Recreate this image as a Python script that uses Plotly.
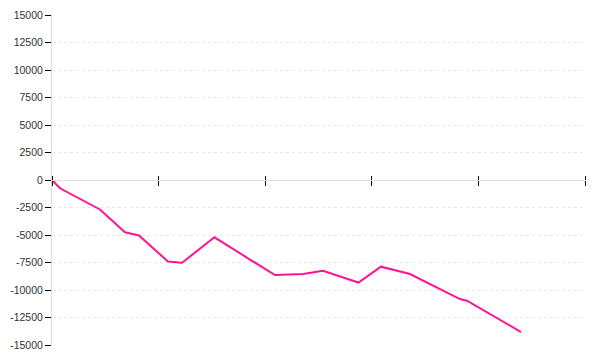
import plotly.graph_objects as go

# Data (x in axis units 0..5, y values)
x_vals = [0, 0.075, 0.45, 0.685, 0.816, 1.088, 1.22, 1.524, 1.857, 2.092, 2.355,
          2.542, 2.875, 3.086, 3.358, 3.762, 3.827, 3.893, 4.4]
y_vals = [0, -755, -2680, -4755, -5045, -7410, -7520, -5210, -7230, -8640, -8545,
          -8245, -9320, -7880, -8545, -10455, -10820, -10970, -13820]
y_ticks = [-15000, -12500, -10000, -7500, -5000, -2500, 0, 2500, 5000, 7500, 10000, 12500, 15000]
x_ticks = [0, 1, 2, 3, 4, 5]

fig = go.Figure()
fig.add_trace(go.Scatter(x=x_vals, y=y_vals, mode="lines",
                         line=dict(color="#ff1493", width=2), hoverinfo="skip"))
# invisible companion trace so the upper tick axis is drawn
fig.add_trace(go.Scatter(x=x_vals, y=y_vals, mode="lines", xaxis="x2",
                         line=dict(color="rgba(0,0,0,0)", width=0), hoverinfo="skip"))

fig.update_layout(
    template="none",
    width=600, height=360,
    margin=dict(l=52, r=15, t=15, b=15),
    paper_bgcolor="white", plot_bgcolor="white",
    showlegend=False,
    font=dict(family="Liberation Sans", size=10.5, color="#333333"),
    xaxis=dict(range=[0, 5], tickvals=x_ticks, showticklabels=False, showgrid=False,
               zeroline=False, anchor="free", position=0.5, showline=True,
               linecolor="#dddddd", linewidth=1, ticks="outside", ticklen=5,
               tickcolor="black", tickwidth=1, automargin=False),
    xaxis2=dict(range=[0, 5], tickvals=x_ticks, showticklabels=False, showgrid=False,
                zeroline=False, overlaying="x", side="top", anchor="free", position=0.5,
                showline=False, ticks="outside", ticklen=4, tickcolor="black", tickwidth=1,
                automargin=False),
    yaxis=dict(range=[-15000, 15000], tickvals=y_ticks, ticktext=[str(v) for v in y_ticks],
               showline=True, linecolor="#dddddd", linewidth=1, ticks="outside",
               ticklen=6, tickcolor="black", tickwidth=1, showgrid=True,
               gridcolor="#e8e8e8", griddash="dot", gridwidth=1, zeroline=False,
               automargin=False),
)

fig.write_html("out.html")
